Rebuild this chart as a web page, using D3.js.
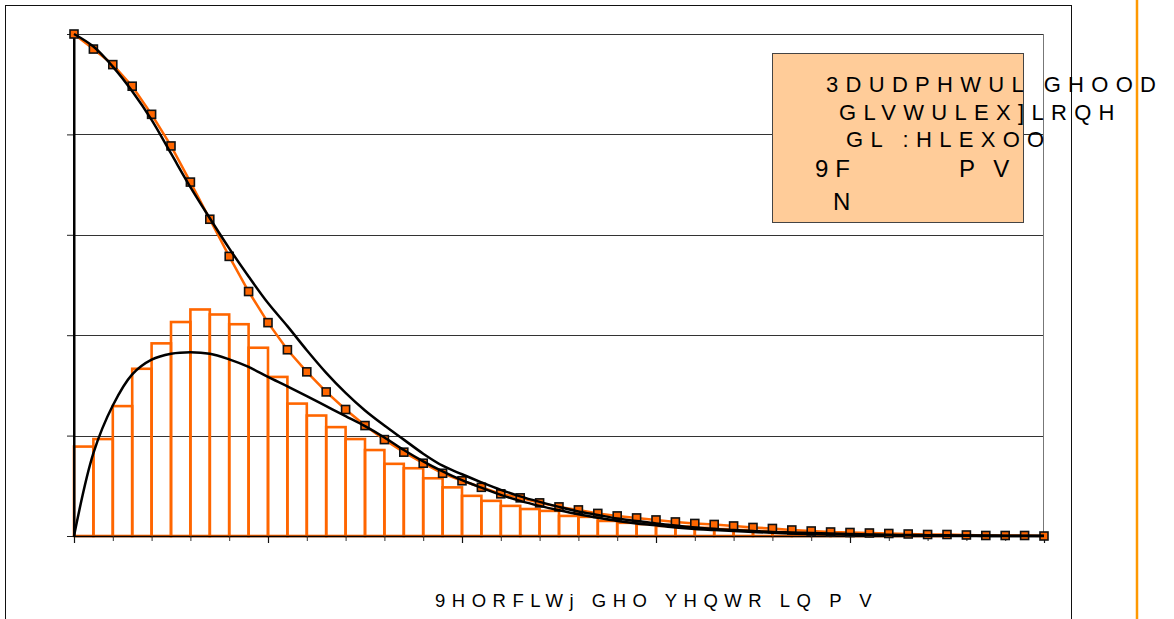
<!DOCTYPE html>
<html><head><meta charset="utf-8">
<script src="https://cdn.jsdelivr.net/npm/d3@7"></script>
<style>body{margin:0;background:#fff}svg{display:block}</style>
</head><body>
<svg id="c" width="1174" height="619"></svg>
<script>
// wind speed categories (m/s)
const speeds = [0,0.5,1,1.5,2,2.5,3,3.5,4,4.5,5,5.5,6,6.5,7,7.5,8,8.5,9,9.5,10,10.5,11,11.5,12,12.5,13,13.5,14,14.5,15,15.5,16,16.5,17,17.5,18,18.5,19,19.5,20,20.5,21,21.5,22,22.5,23,23.5,24,24.5,25];
// observed exceedance probability (markers)
const exceedObs = [1.000,0.970,0.939,0.896,0.840,0.777,0.705,0.631,0.557,0.487,0.425,0.371,0.327,0.287,0.252,0.220,0.192,0.167,0.145,0.125,0.110,0.097,0.084,0.076,0.066,0.058,0.052,0.045,0.040,0.036,0.032,0.028,0.025,0.023,0.020,0.017,0.015,0.012,0.010,0.008,0.007,0.006,0.005,0.004,0.003,0.003,0.002,0.001,0.001,0.001,0.000];
// Weibull exceedance curve
const exceedWeibull = [1.000,0.975,0.935,0.886,0.829,0.762,0.695,0.633,0.573,0.517,0.464,0.418,0.370,0.325,0.285,0.250,0.220,0.192,0.164,0.140,0.123,0.107,0.092,0.079,0.068,0.058,0.049,0.042,0.035,0.030,0.025,0.021,0.017,0.014,0.012,0.010,0.008,0.007,0.006,0.005,0.004,0.003,0.0025,0.002,0.0016,0.0013,0.0011,0.0009,0.0007,0.0006,0.0005];
// Weibull frequency curve (secondary scale)
const pdfWeibull = [0,0.0264,0.0416,0.0515,0.0562,0.0581,0.0586,0.0581,0.0563,0.0539,0.0507,0.0477,0.0446,0.0414,0.0382,0.0350,0.0314,0.0274,0.0238,0.0206,0.0178,0.0154,0.0131,0.0112,0.0096,0.0082,0.0069,0.0058,0.0048,0.0040,0.0034,0.0027,0.0022,0.0019,0.0016,0.0013,0.0010,0.0008,0.0006,0.0005,0.0004,0.0003,0.0002,0.0002,0.0001,0.0001,0.0001,0,0,0,0];
// observed frequency per 0.5 m/s bin (secondary scale)
const binFreq = [0.0285,0.0309,0.0414,0.0533,0.0614,0.0682,0.0722,0.0706,0.0675,0.0600,0.0507,0.0422,0.0384,0.0347,0.0309,0.0274,0.0230,0.0216,0.0184,0.0155,0.0128,0.0112,0.0096,0.0086,0.0080,0.0064,0.0061,0.0048,0.0042,0.0038,0.0032,0.0030,0.0026,0.0022,0.0019,0.0016,0.0013,0.0010,0.0006,0.0005,0.0003,0.0002,0.0002,0.0001,0.0001,0,0,0,0,0];
const yTicks = [0,0.2,0.4,0.6,0.8,1];
const xMinorTicks = [0,1,2,3,4,5,6,7,8,9,10,11,12,13,14,15,16,17,18,19,20,21,22,23,24,25];
const xMajorTicks = [0,5,10,15,20,25];
const boxLines = ["3DUDPHWUL GHOOD","GLVWULEX]LRQH","GL :HLEXOO"];
const vcLabel = "9F", vcUnit = "P V", kLabel = "N";
const xTitle = "9HORFLWj GHO YHQWR LQ P V";

const svg = d3.select("#c");
const font = "'Liberation Sans', Arial, sans-serif";
const x = d3.scaleLinear().domain([0,25]).range([74,1044]);
const y = d3.scaleLinear().domain([0,1]).range([536,34]);
const y2 = d3.scaleLinear().domain([0,0.16]).range([536,34]);

// chart area border
svg.append("rect").attr("x",5.5).attr("y",5.5).attr("width",1066).attr("height",700)
  .attr("fill","#fff").attr("stroke","#111").attr("stroke-width",1);
// orange page line
svg.append("line").attr("x1",1137).attr("x2",1137).attr("y1",0).attr("y2",619)
  .attr("stroke","#FF9900").attr("stroke-width",2.5);

// gridlines
svg.append("g").selectAll("line").data(yTicks).join("line")
  .attr("x1",74).attr("x2",1044).attr("y1",d=>Math.round(y(d))+0.5).attr("y2",d=>Math.round(y(d))+0.5)
  .attr("stroke","#333").attr("stroke-width",1);
// plot right border
svg.append("line").attr("x1",1043.5).attr("x2",1043.5).attr("y1",34).attr("y2",536)
  .attr("stroke","#777").attr("stroke-width",1);

// bars
svg.append("g").selectAll("rect").data(binFreq).join("rect")
  .attr("x",(d,i)=>x(speeds[i])).attr("width",(d,i)=>x(speeds[i+1])-x(speeds[i]))
  .attr("y",d=>y2(d)).attr("height",d=>y2(0)-y2(d))
  .attr("fill","none").attr("stroke","#FF6600").attr("stroke-width",2.6);

// axes
const yAxis = svg.append("g").attr("transform","translate(74,0)")
  .call(d3.axisLeft(y).tickValues(yTicks).tickSize(7).tickSizeOuter(0).tickFormat(""));
yAxis.select(".domain").attr("stroke","#000").attr("stroke-width",2);
yAxis.selectAll(".tick line").attr("stroke","#222");
const xMin = svg.append("g").attr("transform","translate(0,536)")
  .call(d3.axisBottom(x).tickValues(xMinorTicks).tickSize(5).tickSizeOuter(0).tickFormat(""));
xMin.select(".domain").attr("stroke","#000").attr("stroke-width",1.6);
xMin.selectAll(".tick line").attr("stroke","#333");
const xMaj = svg.append("g").attr("transform","translate(0,536)")
  .call(d3.axisBottom(x).tickValues(xMajorTicks).tickSize(7).tickSizeOuter(0).tickFormat(""));
xMaj.select(".domain").remove();
xMaj.selectAll(".tick line").attr("stroke","#111").attr("stroke-width",1.2);
svg.append("line").attr("x1",74).attr("x2",74).attr("y1",34).attr("y2",537).attr("stroke","#000").attr("stroke-width",2);

// observed exceedance line + markers
svg.append("path").datum(exceedObs)
  .attr("d",d3.line().x((d,i)=>x(speeds[i])).y(d=>y(d)))
  .attr("fill","none").attr("stroke","#FF6600").attr("stroke-width",2.5);
svg.append("g").selectAll("rect").data(exceedObs).join("rect")
  .attr("x",(d,i)=>x(speeds[i])-4).attr("y",d=>y(d)-4).attr("width",8).attr("height",8)
  .attr("fill","#FF6600").attr("stroke","#111").attr("stroke-width",1.6);

// Weibull curves
const smooth = d3.line().curve(d3.curveCatmullRom.alpha(0.5)).x((d,i)=>x(speeds[i]));
svg.append("path").datum(pdfWeibull)
  .attr("d",smooth.y(d=>y2(d)))
  .attr("fill","none").attr("stroke","#000").attr("stroke-width",2.5);
svg.append("path").datum(exceedWeibull)
  .attr("d",smooth.y(d=>y(d)))
  .attr("fill","none").attr("stroke","#000").attr("stroke-width",2.5);

// parameter box
svg.append("rect").attr("x",772.5).attr("y",53.5).attr("width",251).attr("height",169)
  .attr("fill","#FFCC99").attr("stroke","#444").attr("stroke-width",1);
const boxPos = [[826,92],[839,119.5],[846,147]];
boxLines.forEach((t,i)=>{
  svg.append("text").attr("x",boxPos[i][0]).attr("y",boxPos[i][1]).text(t)
    .attr("font-family",font).attr("font-size",22).style("letter-spacing","7.3px").attr("fill","#000");
});
svg.append("text").attr("x",815).attr("y",177).text(vcLabel)
  .attr("font-family",font).attr("font-size",24).style("letter-spacing","7px");
svg.append("text").attr("x",959).attr("y",177).text(vcUnit)
  .attr("font-family",font).attr("font-size",24).style("letter-spacing","6px");
svg.append("text").attr("x",833).attr("y",210).text(kLabel)
  .attr("font-family",font).attr("font-size",24);

// x axis title
svg.append("text").attr("x",435).attr("y",606.5).text(xTitle)
  .attr("font-family",font).attr("font-size",18.5).style("letter-spacing","6.5px").attr("fill","#000");
</script>
</body></html>
